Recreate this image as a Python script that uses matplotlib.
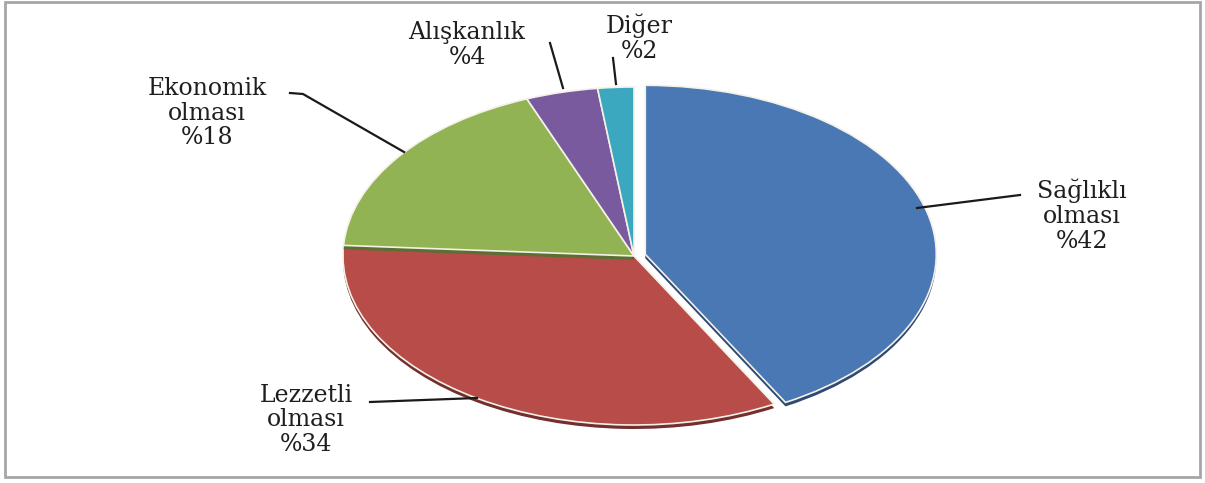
import numpy as np
import matplotlib
matplotlib.use("Agg")
import matplotlib.pyplot as plt
from matplotlib.patches import Rectangle
from matplotlib.colors import to_rgb

# shares of the reasons (percent), clockwise from 12 o'clock
labels = ["Sağlıklı\nolması", "Lezzetli\nolması", "Ekonomik\nolması", "Alışkanlık", "Diğer"]
shares = [42, 34, 18, 4, 2]
colors = ["#4a78b4", "#b84c48", "#92b354", "#7a5a9e", "#3ba8c0"]
explode = [0.04, 0, 0, 0, 0]

W, H = 1205, 483
cx, cy, rx, ry = 634, 256, 291, 169

# label block centres and leader lines, in pixels
label_pos = [(1082, 216), (306, 420), (207, 113), (467, 45), (639, 38)]
leaders = [
    [(917, 208), (1020, 195)],
    [(370, 402), (477, 398)],
    [(290, 93), (303, 94), (404, 152)],
    [(550, 43), (563, 88)],
    [(613, 58), (616, 84)],
]

fig = plt.figure(figsize=(W / 100, H / 100), dpi=100)
fig.patch.set_facecolor("white")

# outer frame
frame = fig.add_axes([0, 0, 1, 1])
frame.set_xlim(0, W)
frame.set_ylim(H, 0)
frame.axis("off")
frame.add_patch(Rectangle((5, 2), 1195, 475, fill=False, ec="#a6a6a6", lw=2))

# pie axes stretched to an ellipse
ax = fig.add_axes([(cx - rx) / W, 1 - (cy + ry) / H, 2 * rx / W, 2 * ry / H])


def px(p):
    return ((p[0] - cx) / rx, (cy - p[1]) / ry)


def draw_pie(visible):
    # darker copy a few pixels lower gives the bevelled bottom edge
    shadow = [tuple(0.62 * c for c in to_rgb(col)) for col in colors]
    back, _ = ax.pie(shares, colors=shadow, startangle=90, counterclock=False,
                     explode=explode, center=(0, -4 / ry), wedgeprops=dict(linewidth=0))
    front, _ = ax.pie(shares, colors=colors, startangle=90, counterclock=False,
                      explode=explode, wedgeprops=dict(edgecolor="#f4f1e8", linewidth=1.2))
    for i, (b, f) in enumerate(zip(back, front)):
        b.set_visible(i in visible)
        f.set_visible(i in visible)


# lower slices first, then the upper ones so their edge sits over the red
draw_pie({0, 1})
draw_pie({2, 3, 4})
ax.set_aspect("auto")
ax.set_xlim(-1, 1)
ax.set_ylim(-1, 1)

for lab, val, pos, line in zip(labels, shares, label_pos, leaders):
    pts = np.array([px(p) for p in line])
    ax.plot(pts[:, 0], pts[:, 1], color="#1a1a1a", lw=1.6, clip_on=False)
    x, y = px(pos)
    ax.text(x, y, f"{lab}\n%{val}", ha="center", va="center", fontsize=17,
            family="DejaVu Serif", color="#1e1e1e", linespacing=1.1, clip_on=False)

fig.savefig("out.png", dpi=100)
